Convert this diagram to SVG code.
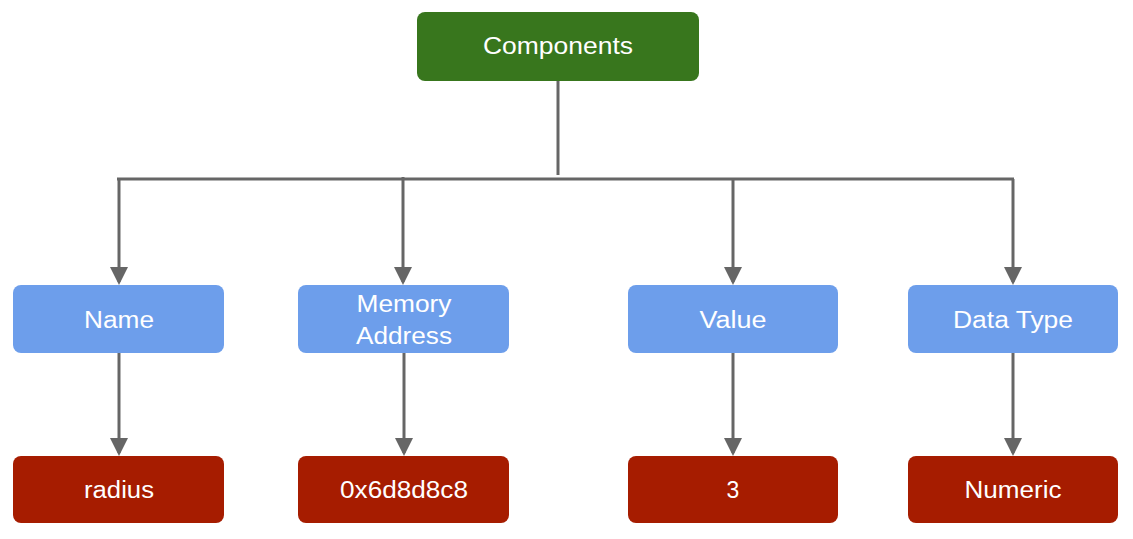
<svg xmlns="http://www.w3.org/2000/svg" width="1133" height="539" viewBox="0 0 1133 539">
<defs>
<marker id="ah" markerWidth="6" markerHeight="6" refX="5" refY="3" orient="auto" markerUnits="strokeWidth">
<path d="M0,0 L6,3 L0,6 Z" fill="#666666"/>
</marker>
<style>
.lbl{font-family:"Liberation Sans",Arial,sans-serif;font-size:23px;fill:#ffffff;text-anchor:middle;dominant-baseline:central}
.green{fill:#38761d}
.blue{fill:#6d9eeb}
.red{fill:#a61c00}
.conn{stroke:#666666;stroke-width:3;fill:none}
</style>
</defs>
<rect width="1133" height="539" fill="#ffffff"/>
<g id="connectors">
<path class="conn" d="M558,81 V175"/>
<path class="conn" d="M117,179 H1014"/>
<path class="conn" d="M119,179 V282" marker-end="url(#ah)"/>
<path class="conn" d="M403,177 V282" marker-end="url(#ah)"/>
<path class="conn" d="M733,179 V282" marker-end="url(#ah)"/>
<path class="conn" d="M1013,179 V282" marker-end="url(#ah)"/>
<path class="conn" d="M119,353 V453" marker-end="url(#ah)"/>
<path class="conn" d="M404,353 V453" marker-end="url(#ah)"/>
<path class="conn" d="M733,353 V453" marker-end="url(#ah)"/>
<path class="conn" d="M1013,353 V453" marker-end="url(#ah)"/>
</g>
<g id="components"><rect class="green" x="417" y="12" width="282" height="69" rx="8"/><text class="lbl" x="558" y="46" textLength="150" lengthAdjust="spacingAndGlyphs">Components</text></g>
<g id="name"><rect class="blue" x="13" y="285" width="211" height="68" rx="8"/><text class="lbl" x="119" y="320" textLength="70" lengthAdjust="spacingAndGlyphs">Name</text></g>
<g id="memory"><rect class="blue" x="298" y="285" width="211" height="68" rx="8"/><text class="lbl" x="404" y="304" textLength="95" lengthAdjust="spacingAndGlyphs">Memory</text><text class="lbl" x="404" y="336" textLength="96" lengthAdjust="spacingAndGlyphs">Address</text></g>
<g id="value"><rect class="blue" x="628" y="285" width="210" height="68" rx="8"/><text class="lbl" x="733" y="320" textLength="67" lengthAdjust="spacingAndGlyphs">Value</text></g>
<g id="datatype"><rect class="blue" x="908" y="285" width="210" height="68" rx="8"/><text class="lbl" x="1013" y="320" textLength="120" lengthAdjust="spacingAndGlyphs">Data Type</text></g>
<g id="radius"><rect class="red" x="13" y="456" width="211" height="67" rx="8"/><text class="lbl" x="119" y="490" textLength="70" lengthAdjust="spacingAndGlyphs">radius</text></g>
<g id="address"><rect class="red" x="298" y="456" width="211" height="67" rx="8"/><text class="lbl" x="404" y="490" textLength="128" lengthAdjust="spacingAndGlyphs">0x6d8d8c8</text></g>
<g id="three"><rect class="red" x="628" y="456" width="210" height="67" rx="8"/><text class="lbl" x="733" y="490">3</text></g>
<g id="numeric"><rect class="red" x="908" y="456" width="210" height="67" rx="8"/><text class="lbl" x="1013" y="490" textLength="97" lengthAdjust="spacingAndGlyphs">Numeric</text></g>
</svg>
